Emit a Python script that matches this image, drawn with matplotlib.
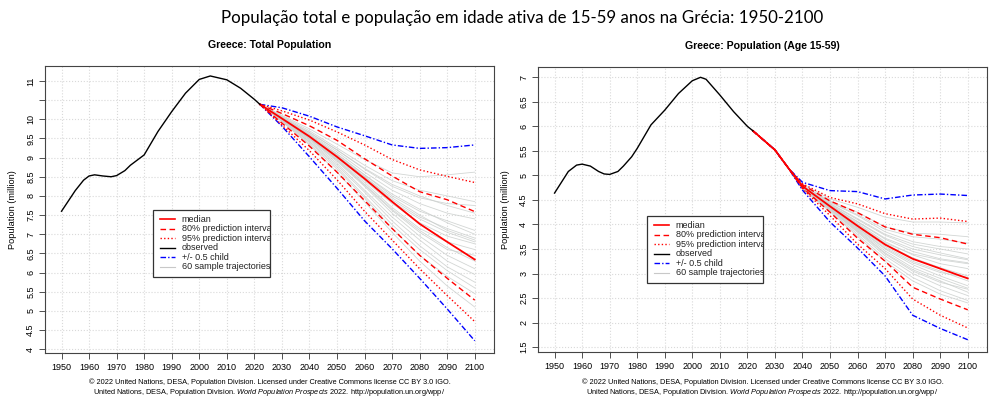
"""Greece total and working-age population projections (WPP 2022 style)."""

import matplotlib

matplotlib.use("Agg")
import matplotlib.pyplot as plt
from matplotlib.patches import Rectangle

plt.rcParams["font.family"] = "Liberation Sans"
plt.rcParams["mathtext.fontset"] = "custom"
plt.rcParams["mathtext.rm"] = "Liberation Sans"
plt.rcParams["mathtext.it"] = "Liberation Sans:italic"

# ---- total population (million) ----
obs_years_total = [1950, 1955, 1958, 1960, 1962, 1965, 1968, 1970, 1973, 1975, 1980,
                   1985, 1990, 1995, 2000, 2004, 2010, 2015, 2020, 2022]
obs_total = [7.60, 8.14, 8.41, 8.52, 8.55, 8.52, 8.50, 8.53, 8.66, 8.80, 9.07,
             9.68, 10.20, 10.68, 11.04, 11.13, 11.03, 10.81, 10.52, 10.39]

proj_years_total = [2022, 2030, 2040, 2050, 2060, 2070, 2080, 2090, 2100]
median_total = [10.39, 10.02, 9.55, 9.02, 8.45, 7.85, 7.27, 6.80, 6.34]
pi80_hi_total = [10.39, 10.15, 9.83, 9.45, 8.97, 8.52, 8.11, 7.90, 7.59]
pi80_lo_total = [10.39, 9.90, 9.30, 8.62, 7.88, 7.15, 6.45, 5.85, 5.28]
pi95_hi_total = [10.39, 10.22, 9.98, 9.67, 9.33, 8.95, 8.68, 8.51, 8.35]
pi95_lo_total = [10.39, 9.85, 9.18, 8.42, 7.60, 6.85, 6.10, 5.40, 4.72]
child_hi_total = [10.39, 10.30, 10.08, 9.80, 9.57, 9.33, 9.24, 9.26, 9.33]
child_lo_total = [10.39, 9.82, 9.02, 8.20, 7.35, 6.62, 5.85, 5.05, 4.22]

traj_total = [
    [10.39, 10.10, 9.75, 9.35, 8.95, 8.60, 8.50, 8.55, 8.62],
    [10.39, 10.08, 9.70, 9.25, 8.80, 8.40, 8.15, 8.00, 7.85],
    [10.39, 10.05, 9.65, 9.20, 8.70, 8.25, 7.95, 7.80, 7.75],
    [10.39, 10.04, 9.62, 9.15, 8.62, 8.15, 7.80, 7.55, 7.40],
    [10.39, 10.03, 9.60, 9.10, 8.55, 8.00, 7.60, 7.35, 7.10],
    [10.39, 10.02, 9.57, 9.05, 8.50, 7.95, 7.50, 7.10, 6.85],
    [10.39, 10.02, 9.55, 9.02, 8.45, 7.85, 7.40, 7.05, 6.80],
    [10.39, 10.01, 9.53, 9.00, 8.40, 7.80, 7.30, 6.95, 6.75],
    [10.39, 10.00, 9.52, 8.97, 8.35, 7.70, 7.15, 6.80, 6.60],
    [10.39, 10.00, 9.50, 8.95, 8.30, 7.65, 7.10, 6.65, 6.30],
    [10.39, 9.99, 9.48, 8.90, 8.25, 7.55, 6.95, 6.45, 6.10],
    [10.39, 9.98, 9.45, 8.85, 8.15, 7.45, 6.85, 6.30, 5.95],
    [10.39, 9.97, 9.42, 8.80, 8.10, 7.35, 6.70, 6.15, 5.75],
    [10.39, 9.96, 9.40, 8.75, 8.00, 7.25, 6.60, 6.05, 5.60],
    [10.39, 9.95, 9.36, 8.70, 7.95, 7.15, 6.45, 5.90, 5.45],
    [10.39, 9.94, 9.33, 8.62, 7.85, 7.05, 6.30, 5.65, 5.10],
    [10.39, 10.03, 9.58, 9.08, 8.55, 8.05, 7.65, 7.30, 7.00],
    [10.39, 10.01, 9.55, 9.05, 8.50, 7.90, 7.45, 7.15, 6.90],
    [10.39, 9.99, 9.50, 8.93, 8.28, 7.62, 7.05, 6.60, 6.45],
    [10.39, 10.06, 9.66, 9.20, 8.72, 8.30, 8.00, 7.75, 7.55],
]

# ---- population aged 15-59 (million) ----
obs_years_work = [1950, 1955, 1958, 1960, 1963, 1966, 1968, 1970, 1973, 1975, 1978,
                  1980, 1985, 1990, 1995, 2000, 2003, 2005, 2010, 2015, 2020, 2022]
obs_work = [4.64, 5.08, 5.21, 5.23, 5.19, 5.08, 5.03, 5.02, 5.08, 5.19, 5.38,
            5.55, 6.03, 6.33, 6.67, 6.93, 7.00, 6.96, 6.64, 6.30, 6.00, 5.91]

proj_years_work = [2022, 2030, 2035, 2040, 2050, 2060, 2070, 2080, 2090, 2100]
median_work = [5.91, 5.52, 5.14, 4.78, 4.37, 3.97, 3.59, 3.30, 3.10, 2.90]
pi80_hi_work = [5.91, 5.52, 5.14, 4.81, 4.48, 4.24, 3.95, 3.80, 3.73, 3.60]
pi80_lo_work = [5.91, 5.52, 5.14, 4.75, 4.25, 3.72, 3.25, 2.72, 2.48, 2.26]
pi95_hi_work = [5.91, 5.52, 5.14, 4.83, 4.55, 4.42, 4.22, 4.11, 4.13, 4.06]
pi95_lo_work = [5.91, 5.52, 5.14, 4.73, 4.18, 3.60, 3.10, 2.48, 2.15, 1.89]
child_hi_work = [5.91, 5.52, 5.14, 4.86, 4.69, 4.67, 4.52, 4.60, 4.62, 4.59]
child_lo_work = [5.91, 5.52, 5.14, 4.70, 4.05, 3.52, 2.95, 2.15, 1.88, 1.65]

traj_work = [
    [5.91, 5.52, 5.14, 4.82, 4.52, 4.35, 4.15, 4.05, 4.05, 4.03],
    [5.91, 5.52, 5.14, 4.80, 4.48, 4.25, 3.95, 3.82, 3.80, 3.75],
    [5.91, 5.52, 5.14, 4.79, 4.45, 4.18, 3.85, 3.65, 3.55, 3.50],
    [5.91, 5.52, 5.14, 4.78, 4.42, 4.10, 3.78, 3.55, 3.42, 3.30],
    [5.91, 5.52, 5.14, 4.77, 4.40, 4.05, 3.70, 3.45, 3.30, 3.22],
    [5.91, 5.52, 5.14, 4.77, 4.39, 4.02, 3.65, 3.38, 3.20, 3.10],
    [5.91, 5.52, 5.14, 4.76, 4.37, 3.98, 3.60, 3.32, 3.12, 2.95],
    [5.91, 5.52, 5.14, 4.76, 4.36, 3.95, 3.55, 3.25, 3.05, 2.85],
    [5.91, 5.52, 5.14, 4.75, 4.34, 3.92, 3.50, 3.18, 2.95, 2.75],
    [5.91, 5.52, 5.14, 4.75, 4.32, 3.88, 3.42, 3.08, 2.85, 2.62],
    [5.91, 5.52, 5.14, 4.74, 4.30, 3.84, 3.36, 3.00, 2.75, 2.55],
    [5.91, 5.52, 5.14, 4.73, 4.28, 3.80, 3.30, 2.92, 2.65, 2.45],
    [5.91, 5.52, 5.14, 4.78, 4.43, 4.12, 3.80, 3.60, 3.50, 3.40],
    [5.91, 5.52, 5.14, 4.76, 4.38, 4.00, 3.62, 3.40, 3.28, 3.20],
    [5.91, 5.52, 5.14, 4.75, 4.35, 3.93, 3.52, 3.22, 3.02, 2.92],
    [5.91, 5.52, 5.14, 4.74, 4.31, 3.86, 3.40, 3.05, 2.82, 2.68],
    [5.91, 5.52, 5.14, 4.79, 4.46, 4.20, 3.90, 3.75, 3.70, 3.62],
    [5.91, 5.52, 5.14, 4.72, 4.26, 3.76, 3.25, 2.85, 2.58, 2.40],
    [5.91, 5.52, 5.14, 4.77, 4.40, 4.06, 3.72, 3.50, 3.38, 3.28],
    [5.91, 5.52, 5.14, 4.75, 4.33, 3.90, 3.46, 3.12, 2.90, 2.70],
]

x_ticks = list(range(1950, 2101, 10))
y_ticks_total = [4 + 0.5 * i for i in range(15)]
y_ticks_work = [1.5 + 0.5 * i for i in range(12)]

TITLE = "População total e população em idade ativa de 15-59 anos na Grécia: 1950-2100"
FOOT1 = "© 2022 United Nations, DESA, Population Division. Licensed under Creative Commons license CC BY 3.0 IGO."
FOOT2 = (r"United Nations, DESA, Population Division. $\it{World\ Population\ Prospects\ 2022}$."
         " http://population.un.org/wpp/")

LEGEND = [
    ("median", "red", "-", 1.2),
    ("80% prediction interval", "red", (0, (4, 2.5)), 1.0),
    ("95% prediction interval", "red", (0, (1, 1.6)), 1.0),
    ("observed", "black", "-", 1.0),
    ("+/- 0.5 child", "blue", (0, (4, 1.5, 1, 1.5)), 1.0),
    ("60 sample trajectories", "#c8c8c8", "-", 0.8),
]


def draw_legend(ax, x0, y0, x1, y1):
    rect = Rectangle((x0, y0), x1 - x0, y1 - y0, transform=ax.transAxes,
                     facecolor="white", edgecolor="#333333", lw=0.9, zorder=10)
    ax.add_patch(rect)
    step = (y1 - y0) / 7.05
    for i, (label, color, ls, lw) in enumerate(LEGEND):
        y = y1 - step * (0.95 + i)
        ax.plot([x0 + 0.016, x0 + 0.05], [y, y], transform=ax.transAxes, color=color,
                ls=ls, lw=lw, zorder=11, clip_on=False)
        t = ax.text(x0 + 0.064, y, label, transform=ax.transAxes, fontsize=6.5,
                    va="center", ha="left", zorder=11, clip_on=True, color="#222222")
        t.set_clip_path(rect)


def draw_panel(ax, title, obs_years, obs, proj_years, med, hi80, lo80, hi95, lo95,
               chi, clo, trajs, yticks, ylim, hide_label=None):
    ax.set_xlim(1944, 2107)
    ax.set_ylim(*ylim)
    ax.set_xticks(x_ticks)
    ax.set_yticks(yticks)
    ax.set_yticklabels(["" if v == hide_label else f"{v:g}" for v in yticks])
    ax.grid(True, color="#d9d9d9", ls=":", lw=0.8)
    ax.set_axisbelow(True)

    for tr in trajs:
        ax.plot(proj_years, tr, color="#cbcfcd", lw=0.6, alpha=0.85)
    ax.plot(proj_years, chi, color="blue", ls=(0, (4, 1.5, 1, 1.5)), lw=1.0)
    ax.plot(proj_years, clo, color="blue", ls=(0, (4, 1.5, 1, 1.5)), lw=1.0)
    ax.plot(proj_years, hi95, color="red", ls=(0, (1, 1.6)), lw=1.0)
    ax.plot(proj_years, lo95, color="red", ls=(0, (1, 1.6)), lw=1.0)
    ax.plot(proj_years, hi80, color="red", ls=(0, (4, 2.5)), lw=1.0)
    ax.plot(proj_years, lo80, color="red", ls=(0, (4, 2.5)), lw=1.0)
    ax.plot(proj_years, med, color="red", lw=1.3)
    ax.plot(obs_years, obs, color="black", lw=1.0)

    ax.set_title(title, fontsize=7.6, fontweight="bold", pad=13)
    ax.set_ylabel("Population (million)", fontsize=6.6, labelpad=7)
    ax.tick_params(direction="out", length=4, width=0.6, color="#333333",
                   labelsize=6.5, pad=3)
    for lab in ax.get_yticklabels():
        lab.set_rotation(90)
        lab.set_va("center")
    for sp in ax.spines.values():
        sp.set_color("#444444")
        sp.set_linewidth(0.8)


fig = plt.figure(figsize=(9.91, 4.01), dpi=100)
ax1 = fig.add_axes([0.0454, 0.1197, 0.4531, 0.7157])
ax2 = fig.add_axes([0.5429, 0.1222, 0.4531, 0.7107])

draw_panel(ax1, "Greece: Total Population", obs_years_total, obs_total, proj_years_total,
           median_total, pi80_hi_total, pi80_lo_total, pi95_hi_total, pi95_lo_total,
           child_hi_total, child_lo_total, traj_total, y_ticks_total, (3.9, 11.39),
           hide_label=10.5)
draw_panel(ax2, "Greece: Population (Age 15-59)", obs_years_work, obs_work, proj_years_work,
           median_work, pi80_hi_work, pi80_lo_work, pi95_hi_work, pi95_lo_work,
           child_hi_work, child_lo_work, traj_work, y_ticks_work, (1.40, 7.21))

draw_legend(ax1, 0.2405, 0.265, 0.501, 0.498)
draw_legend(ax2, 0.2428, 0.242, 0.501, 0.477)

for ax in (ax1, ax2):
    pos = ax.get_position()
    cx = (pos.x0 + pos.x1) / 2
    fig.text(cx, 1 - 382 / 401, FOOT1, ha="center", va="center", fontsize=5.3)
    fig.text(cx, 1 - 392 / 401, FOOT2, ha="center", va="center", fontsize=5.3)

fig.text(522 / 991, 1 - 18 / 401, TITLE, ha="center", va="center", fontsize=12.2,
         family="Lato")

fig.savefig("out.png", dpi=100)
plt.close(fig)
